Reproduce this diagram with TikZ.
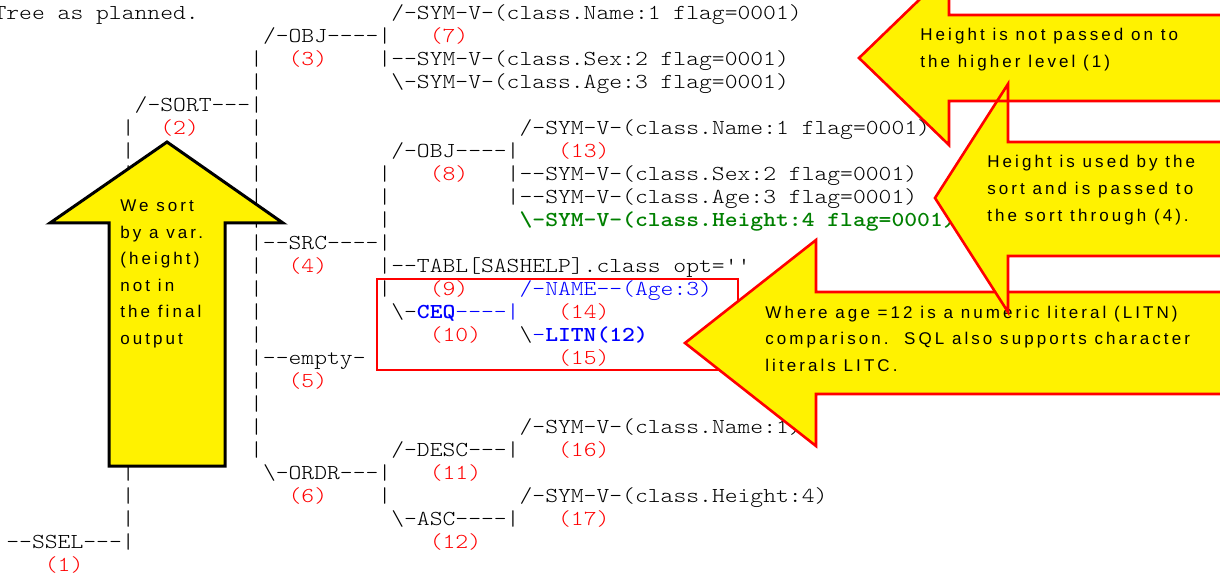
\documentclass[tikz,border=0pt]{standalone}
\usepackage{fontspec}
\setmainfont{Liberation Sans}
\newfontfamily\codefont[Ligatures=TeXOff,FakeStretch=1.147,BoldFont=lmmonolt10-bold.otf]{lmmonolt10-regular.otf}
\newfontfamily\notefont[LetterSpace=18]{Liberation Sans}
\definecolor{litgreen}{RGB}{0,128,0}
\newcommand\txt[5][]{\node[code,#1] (#2) at ({6+12.83*#4},{20+22.96*#3}) {#5};}

\begin{document}
\begin{tikzpicture}[x=0.5pt,y=-0.5pt,
    code/.style={anchor=base west,inner sep=0pt,font=\codefont\fontsize{10.65pt}{12pt}\selectfont},
    note/.style={anchor=base west,inner sep=0pt,font=\notefont\fontsize{8.5pt}{10pt}\selectfont},
    callout/.style={draw=red,line width=1.3pt,line join=miter}]
    \useasboundingbox (0,0) rectangle (1220,577);

    \txt{title}{0}{-1}{Tree as planned.}
    \txt{name1}{0}{30}{/-SYM-V-(class.Name:1 flag=0001)}
    \txt{obj3}{1}{20}{/-OBJ----|}
    \txt[red]{n7}{1}{33}{(7)}
    \txt[red]{n3}{2}{22}{(3)}
    \txt{sex1}{2}{29}{|--SYM-V-(class.Sex:2 flag=0001)}
    \txt{age1}{3}{30}{\textbackslash-SYM-V-(class.Age:3 flag=0001)}
    \txt{sort}{4}{10}{/-SORT---|}
    \txt[red]{n2}{5}{12}{(2)}
    \txt{name2}{5}{40}{/-SYM-V-(class.Name:1 flag=0001)}
    \txt{obj8}{6}{30}{/-OBJ----|}
    \txt[red]{n13}{6}{43}{(13)}
    \txt[red]{n8}{7}{33}{(8)}
    \txt{sex2}{7}{39}{|--SYM-V-(class.Sex:2 flag=0001)}
    \txt{age2}{8}{39}{|--SYM-V-(class.Age:3 flag=0001)}
    \txt[litgreen]{height1}{9}{40}{\bfseries\textbackslash-SYM-V-(class.Height:4 flag=0001)}
    \txt{src}{10}{19}{|--SRC----|}
    \txt[red]{n4}{11}{22}{(4)}
    \txt{tabl}{11}{29}{|--TABL[SASHELP].class opt=''}
    \txt[red]{n9}{12}{33}{(9)}
    \txt[blue]{name3}{12}{40}{/-NAME--(Age:3)}
    \txt{ceq}{13}{30}{\textbackslash-\textcolor{blue}{\bfseries CEQ}\textcolor{blue}{----|}}
    \txt[red]{n14}{13}{43}{(14)}
    \txt[red]{n10}{14}{33}{(10)}
    \txt{litn}{14}{40}{\textbackslash\textcolor{blue}{-\bfseries LITN(12)}}
    \txt{empty}{15}{19}{|--empty-}
    \txt[red]{n15}{15}{43}{(15)}
    \txt[red]{n5}{16}{22}{(5)}
    \txt{name4}{18}{40}{/-SYM-V-(class.Name:1)}
    \txt{desc}{19}{30}{/-DESC---|}
    \txt[red]{n16}{19}{43}{(16)}
    \txt{ordr}{20}{20}{\textbackslash-ORDR---|}
    \txt[red]{n11}{20}{33}{(11)}
    \txt[red]{n6}{21}{22}{(6)}
    \txt{height2}{21}{40}{/-SYM-V-(class.Height:4)}
    \txt{asc}{22}{30}{\textbackslash-ASC----|}
    \txt[red]{n17}{22}{43}{(17)}
    \txt{ssel}{23}{0}{--SSEL---|}
    \txt[red]{n12}{23}{33}{(12)}
    \txt[red]{n1}{24}{3}{(1)}

    \foreach \r in {5,...,22} {\txt{barA\r}{\r}{9}{|}}
    \foreach \r in {2,3,5,6,7,8,9,11,12,13,14,16,17,18,19} {\txt{barB\r}{\r}{19}{|}}
    \foreach \r in {7,8,9,12,21} {\txt{barC\r}{\r}{29}{|}}

    \draw[red,line width=0.7pt] (377,279) rectangle (738,370);

    \draw[fill=yellow,line width=1.5pt,line join=miter] (167,142) -- (283,223) -- (225,223) -- (225,466)
        -- (109,466) -- (109,223) -- (50,223) -- cycle;
    \foreach \l [count=\i] in {We sort,by a var.,(height),not in,the final,output}
        {\node[note] (sort\i) at (120,{212+26.4*(\i-1)}) {\l};}

    \draw[callout,fill=yellow] (685,343) -- (816,240) -- (816,292) -- (1235,292) -- (1235,394)
        -- (816,394) -- (816,446) -- cycle;
    \foreach \l [count=\i] in {Where age =12 is a numeric literal (LITN),comparison.\ \ SQL also supports character,literals LITC.}
        {\node[note] (litc\i) at (765,{318+26.5*(\i-1)}) {\l};}

    \fill[yellow] (859,58) -- (949,-29) -- (949,15) -- (1235,15) -- (1235,101) -- (949,101) -- (949,145) -- cycle;
    \fill[yellow] (935,198) -- (1008,84) -- (1008,142) -- (1235,142) -- (1235,256) -- (1008,256) -- (1008,312) -- cycle;
    \draw[callout] (935,198) -- (1008,84) -- (1008,142) -- (1235,142) -- (1235,256) -- (1008,256) -- (1008,312) -- cycle;
    \draw[callout] (859,58) -- (949,-29) -- (949,15) -- (1235,15) -- (1235,101) -- (949,101) -- (949,145) -- cycle;
    \foreach \l [count=\i] in {Height is not passed on to,the higher level (1)}
        {\node[note] (up\i) at (920,{41+27*(\i-1)}) {\l};}
    \foreach \l [count=\i] in {Height is used by the,sort and is passed to,the sort through (4).}
        {\node[note] (use\i) at (987,{168+27*(\i-1)}) {\l};}
\end{tikzpicture}
\end{document}
